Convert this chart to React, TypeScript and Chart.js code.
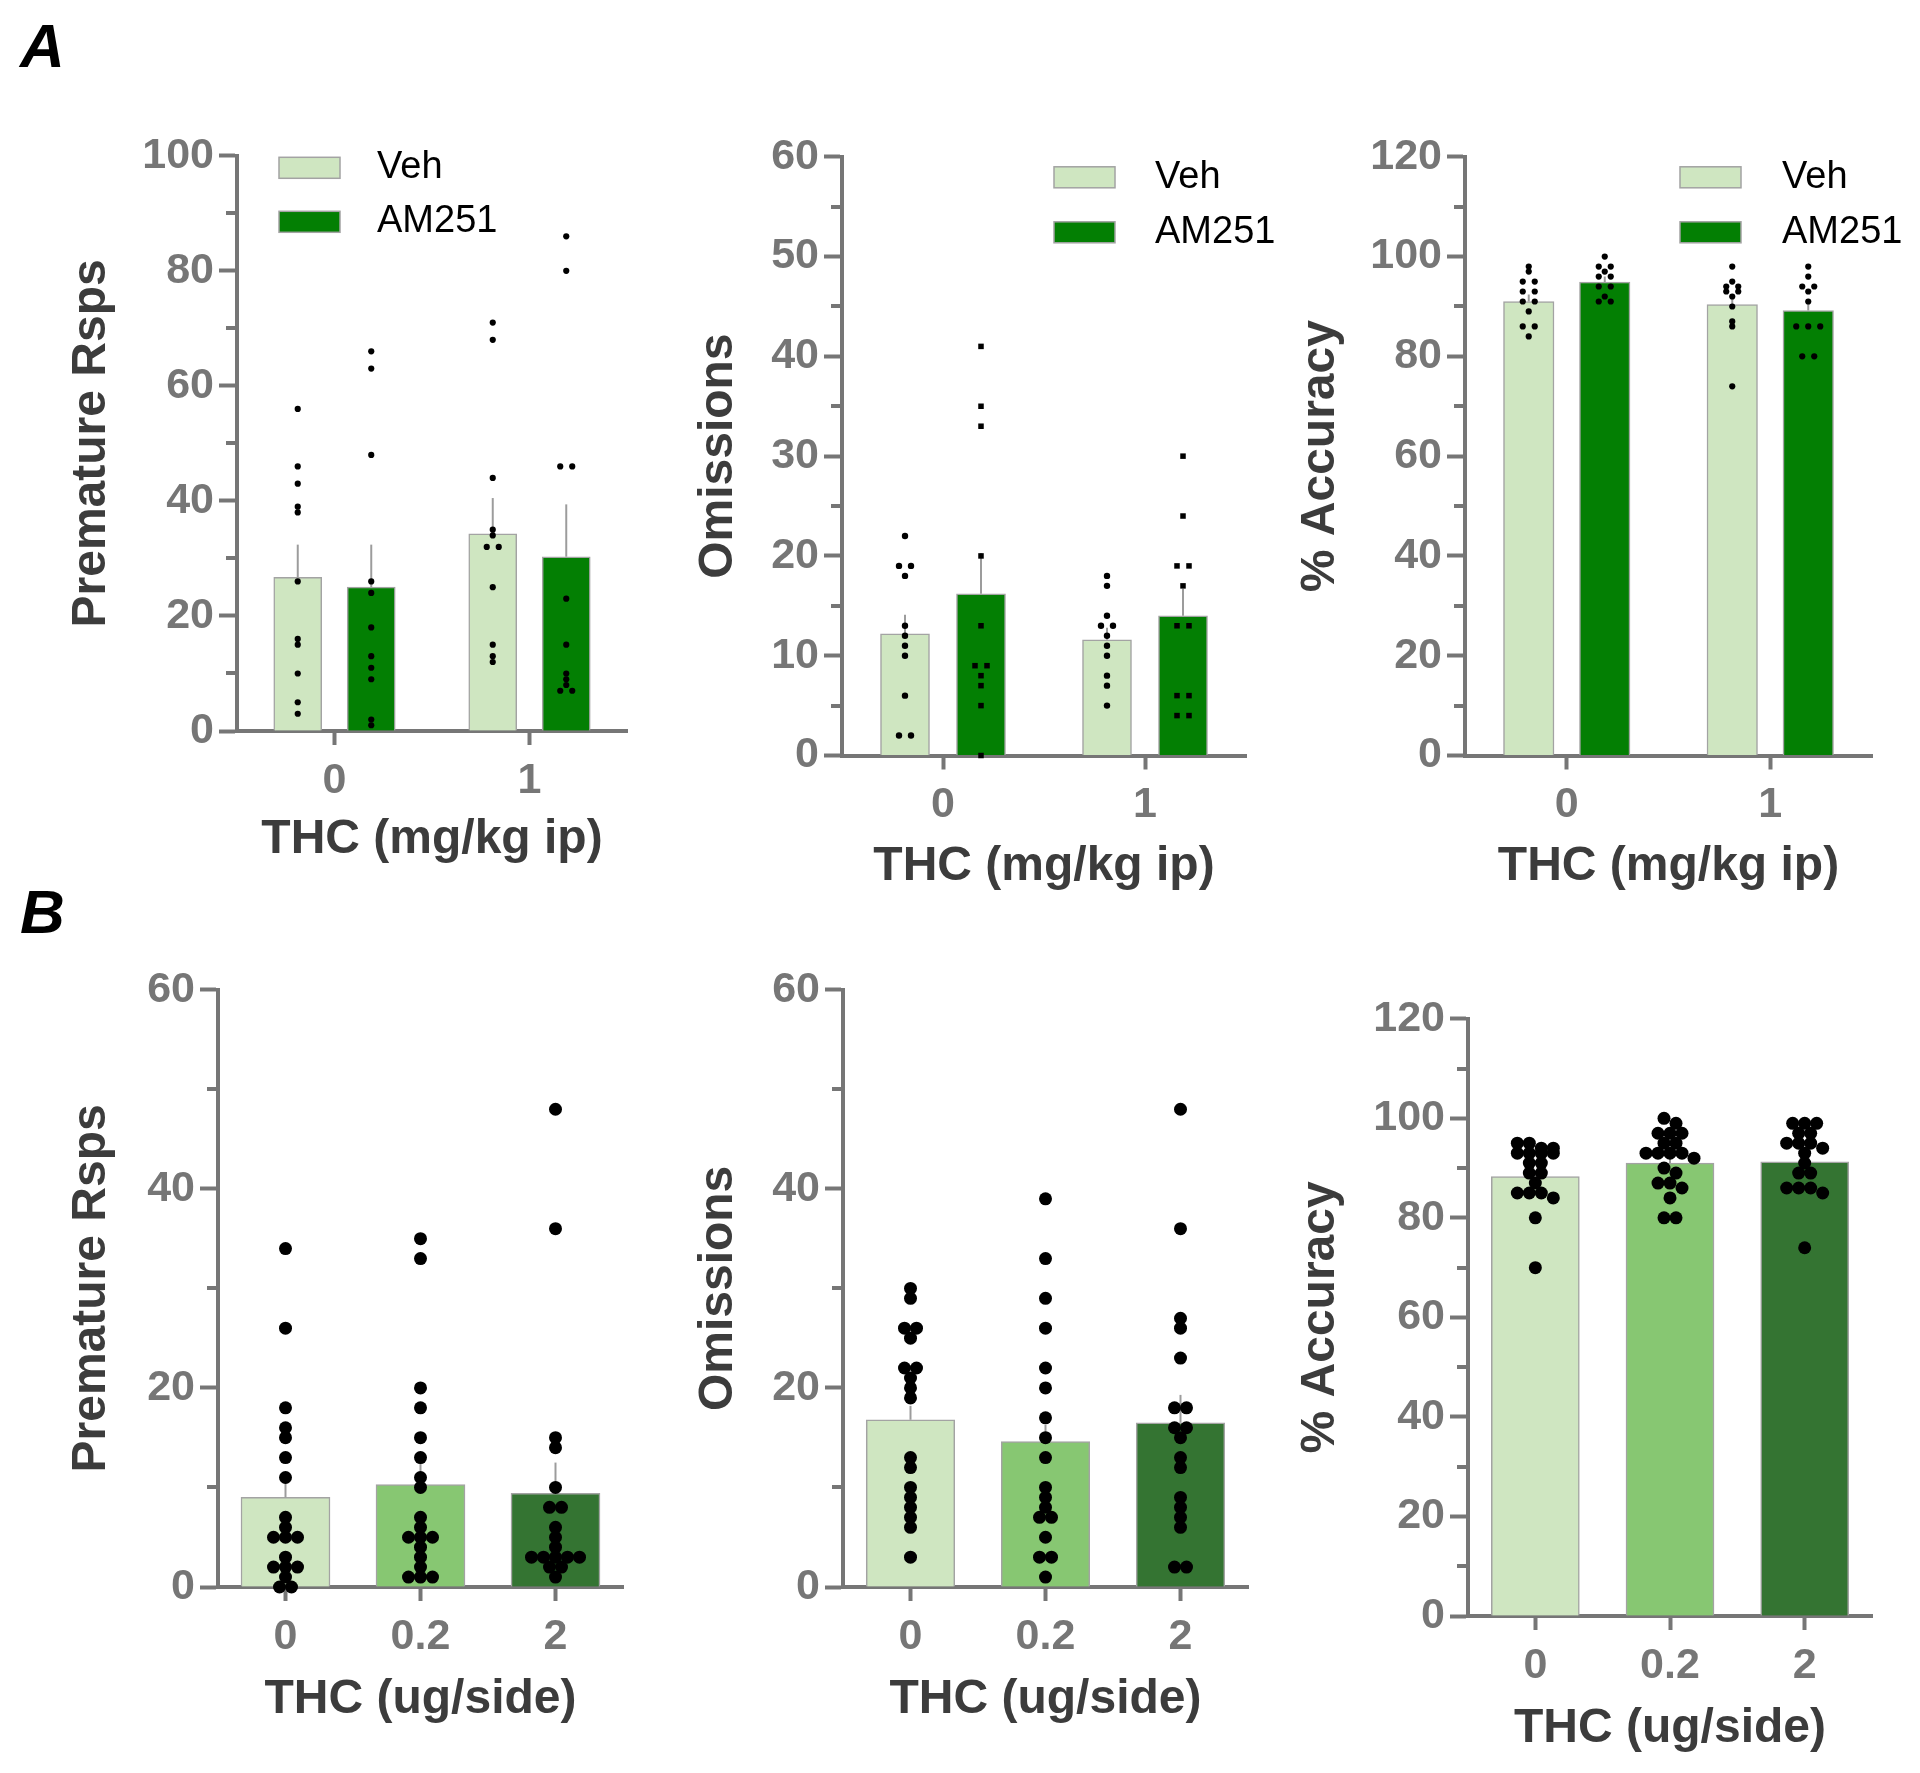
import React, { useEffect, useRef } from 'react';
import { Chart, registerables } from 'chart.js';

Chart.register(...registerables);

const FONT = "'Liberation Sans', Arial, Helvetica, sans-serif";
const AXIS_GRAY = '#767676';
const TICK_TEXT = '#767676';
const TITLE_TEXT = '#3c3c3c';
const BAR_BORDER = '#a3a3a3';
const ERR_COLOR = '#9c9c9c';
const JITTER_PX = 12;

// ---------- categories / labels ----------
const A_DOSES = ['0', '1'];
const B_DOSES = ['0', '0.2', '2'];
const A_GROUPS = ['Veh', 'AM251'];
const A_X_TITLE = 'THC (mg/kg ip)';
const B_X_TITLE = 'THC (ug/side)';

// ---------- colours ----------
const VEH_COLOR = '#cfe6c1';
const AM_COLOR = '#037f03';
const B_COLORS = ['#cfe6c1', '#87c772', '#347432'];

// ---------- A: Premature responses ----------
const A_PREM_VEH_MEAN = [26.7, 34.3];
const A_PREM_VEH_SEM = [5.7, 6.2];
const A_PREM_AM_MEAN = [25.0, 30.3];
const A_PREM_AM_SEM = [7.4, 9.1];
const A_PREM_VEH_PTS = [
  [56, 46, 43, 39, 38, 26, 16, 15, 10, 5, 3],
  [71, 68, 44, 35, 34, 32, 32, 25, 15, 13, 12],
];
const A_PREM_AM_PTS = [
  [66, 63, 48, 26, 24, 18, 13, 11, 9, 2, 1],
  [86, 80, 46, 46, 23, 15, 10, 9, 8, 7, 7],
];

// ---------- A: Omissions ----------
const A_OMIS_VEH_MEAN = [12.2, 11.6];
const A_OMIS_VEH_SEM = [1.9, 1.2];
const A_OMIS_AM_MEAN = [16.2, 14.0];
const A_OMIS_AM_SEM = [4.1, 2.7];
const A_OMIS_VEH_PTS = [
  [22, 19, 19, 18, 13, 12, 11, 10, 6, 2, 2],
  [18, 17, 14, 13, 13, 12, 11, 10, 8, 7, 5],
];
const A_OMIS_AM_PTS = [
  [41, 35, 33, 20, 13, 9, 9, 8, 7, 5, 0],
  [30, 24, 19, 19, 17, 13, 13, 6, 6, 4, 4],
];

// ---------- A: % Accuracy ----------
const A_ACC_VEH_MEAN = [91.0, 90.4];
const A_ACC_VEH_SEM = [1.4, 1.8];
const A_ACC_AM_MEAN = [94.9, 89.2];
const A_ACC_AM_SEM = [1.1, 1.4];
const A_ACC_VEH_PTS = [
  [98, 97, 95, 95, 93, 93, 91, 91, 89, 86, 86, 84],
  [98, 95, 94, 94, 93, 93, 92, 90, 87, 86, 74],
];
const A_ACC_AM_PTS = [
  [100, 98, 98, 97, 96, 96, 94, 94, 92, 91, 91],
  [98, 96, 94, 94, 93, 91, 86, 86, 86, 80, 80],
];

// ---------- B: Premature responses ----------
const B_PREM_MEAN = [9.0, 10.3, 9.4];
const B_PREM_SEM = [2.2, 2.6, 3.1];
const B_PREM_PTS = [
  [34, 26, 18, 16, 15, 13, 11, 7, 6, 5, 5, 5, 3, 2, 2, 2, 1, 0, 0],
  [35, 33, 20, 18, 15, 13, 11, 10, 7, 6, 5, 5, 5, 4, 3, 2, 1, 1, 1],
  [48, 36, 15, 14, 10, 8, 8, 6, 5, 4, 3, 3, 3, 3, 3, 2, 2, 1],
];

// ---------- B: Omissions ----------
const B_OMIS_MEAN = [16.8, 14.6, 16.5];
const B_OMIS_SEM = [1.4, 1.7, 2.8];
const B_OMIS_PTS = [
  [30, 29, 26, 26, 25, 22, 22, 21, 20, 19, 13, 12, 10, 9, 8, 7, 6, 3],
  [39, 33, 29, 26, 22, 20, 17, 15, 13, 10, 9, 8, 7, 7, 5, 3, 3, 1],
  [48, 36, 27, 26, 23, 18, 18, 16, 16, 15, 13, 12, 9, 8, 7, 6, 2, 2],
];

// ---------- B: % Accuracy ----------
const B_ACC_MEAN = [88.3, 91.0, 91.25];
const B_ACC_SEM = [1.1, 1.1, 1.0];
const B_ACC_PTS = [
  [95, 95, 94, 94, 93, 93, 93, 93, 91, 91, 89, 89, 87, 85, 85, 85, 84, 80, 70],
  [100, 99, 97, 97, 97, 95, 95, 93, 93, 93, 93, 92, 90, 89, 87, 87, 86, 84, 80, 80],
  [99, 99, 99, 97, 97, 95, 95, 95, 94, 93, 91, 89, 89, 86, 86, 86, 85, 74],
];

type Series = {
  label: string;
  means: number[];
  sems: number[];
  color: string | string[];
  points: number[][];
  pointStyle: 'circle' | 'rect';
  radius: number;
};

type PanelCfg = {
  id: string;
  left: number;
  top: number;
  width: number;
  height: number;
  yAxisWidth: number;
  xAxisHeight: number;
  padTop: number;
  padRight: number;
  yMax: number;
  yStep: number;
  yTitle: string;
  xTitle: string;
  categories: string[];
  barPx: number;
  groupSpacingPx: number;
  rowMergePx: number;
  series: Series[];
  legend?: { dx: number; dy: number; gap: number; textDx: number };
};

// Simple beeswarm: values closer than `thr` (value units) share a row,
// and the members of a row are spread symmetrically around the centre.
function rowOffsets(vals: number[], thr: number): number[] {
  const idx = vals.map((_, i) => i).sort((a, b) => vals[b] - vals[a]);
  const offs = new Array(vals.length).fill(0);
  let row: number[] = [];
  let rowStart = Infinity;
  const flush = () => {
    const k = row.length;
    row.forEach((id, i) => {
      offs[id] = i - (k - 1) / 2;
    });
    row = [];
  };
  idx.forEach((id) => {
    const v = vals[id];
    if (row.length && !(rowStart - v < thr || rowStart === v)) flush();
    if (!row.length) rowStart = v;
    row.push(id);
  });
  flush();
  return offs;
}

const PANELS: PanelCfg[] = [
  {
    id: 'A1', left: 63, top: 125, width: 577, height: 744, yAxisWidth: 174, xAxisHeight: 138,
    padTop: 30.5, padRight: 13, yMax: 100, yStep: 20, yTitle: 'Premature Rsps',
    xTitle: A_X_TITLE, categories: A_DOSES, barPx: 48, groupSpacingPx: 73.5, rowMergePx: 3,
    series: [
      { label: A_GROUPS[0], means: A_PREM_VEH_MEAN, sems: A_PREM_VEH_SEM, color: VEH_COLOR, points: A_PREM_VEH_PTS, pointStyle: 'circle', radius: 3.1 },
      { label: A_GROUPS[1], means: A_PREM_AM_MEAN, sems: A_PREM_AM_SEM, color: AM_COLOR, points: A_PREM_AM_PTS, pointStyle: 'circle', radius: 3.1 },
    ],
    legend: { dx: 42, dy: 1.5, gap: 54, textDx: 98 },
  },
  {
    id: 'A2', left: 690, top: 126, width: 600, height: 770, yAxisWidth: 152, xAxisHeight: 140.5,
    padTop: 30.7, padRight: 44, yMax: 60, yStep: 10, yTitle: 'Omissions',
    xTitle: A_X_TITLE, categories: A_DOSES, barPx: 49, groupSpacingPx: 76, rowMergePx: 3,
    series: [
      { label: A_GROUPS[0], means: A_OMIS_VEH_MEAN, sems: A_OMIS_VEH_SEM, color: VEH_COLOR, points: A_OMIS_VEH_PTS, pointStyle: 'circle', radius: 3.2 },
      { label: A_GROUPS[1], means: A_OMIS_AM_MEAN, sems: A_OMIS_AM_SEM, color: AM_COLOR, points: A_OMIS_AM_PTS, pointStyle: 'rect', radius: 3.9 },
    ],
    legend: { dx: 212, dy: 10, gap: 55, textDx: 101 },
  },
  {
    id: 'A3', left: 1292, top: 126, width: 626, height: 770, yAxisWidth: 173, xAxisHeight: 140.5,
    padTop: 30.7, padRight: 46, yMax: 120, yStep: 20, yTitle: '% Accuracy',
    xTitle: A_X_TITLE, categories: A_DOSES, barPx: 50.5, groupSpacingPx: 76, rowMergePx: 3,
    series: [
      { label: A_GROUPS[0], means: A_ACC_VEH_MEAN, sems: A_ACC_VEH_SEM, color: VEH_COLOR, points: A_ACC_VEH_PTS, pointStyle: 'circle', radius: 3.1 },
      { label: A_GROUPS[1], means: A_ACC_AM_MEAN, sems: A_ACC_AM_SEM, color: AM_COLOR, points: A_ACC_AM_PTS, pointStyle: 'circle', radius: 3.1 },
    ],
    legend: { dx: 215, dy: 10, gap: 55, textDx: 102 },
  },
  {
    id: 'B1', left: 63, top: 959, width: 577, height: 770, yAxisWidth: 155, xAxisHeight: 142,
    padTop: 30.4, padRight: 17, yMax: 60, yStep: 20, yTitle: 'Premature Rsps',
    xTitle: B_X_TITLE, categories: B_DOSES, barPx: 89, groupSpacingPx: 0, rowMergePx: 8,
    series: [
      { label: 'THC', means: B_PREM_MEAN, sems: B_PREM_SEM, color: B_COLORS, points: B_PREM_PTS, pointStyle: 'circle', radius: 6.5 },
    ],
  },
  {
    id: 'B2', left: 690, top: 959, width: 580, height: 770, yAxisWidth: 153, xAxisHeight: 142,
    padTop: 30.4, padRight: 22, yMax: 60, yStep: 20, yTitle: 'Omissions',
    xTitle: B_X_TITLE, categories: B_DOSES, barPx: 88.5, groupSpacingPx: 0, rowMergePx: 8,
    series: [
      { label: 'THC', means: B_OMIS_MEAN, sems: B_OMIS_SEM, color: B_COLORS, points: B_OMIS_PTS, pointStyle: 'circle', radius: 6.5 },
    ],
  },
  {
    id: 'B3', left: 1292, top: 988, width: 608, height: 770, yAxisWidth: 176, xAxisHeight: 142,
    padTop: 30.8, padRight: 28, yMax: 120, yStep: 20, yTitle: '% Accuracy',
    xTitle: B_X_TITLE, categories: B_DOSES, barPx: 88, groupSpacingPx: 0, rowMergePx: 8,
    series: [
      { label: 'THC', means: B_ACC_MEAN, sems: B_ACC_SEM, color: B_COLORS, points: B_ACC_PTS, pointStyle: 'circle', radius: 6.5 },
    ],
  },
];

function Panel({ cfg }: { cfg: PanelCfg }) {
  const ref = useRef<HTMLCanvasElement | null>(null);

  useEffect(() => {
    const canvas = ref.current;
    if (!canvas) return;
    const n = cfg.categories.length;
    const plotW = cfg.width - cfg.yAxisWidth - cfg.padRight;
    const plotH = cfg.height - cfg.padTop - cfg.xAxisHeight;
    const catW = plotW / n;
    const jitterUnit = JITTER_PX / catW;
    const rowThr = cfg.rowMergePx / (plotH / cfg.yMax);
    const nS = cfg.series.length;
    const barOffsets = cfg.series.map((_, si) => ((si - (nS - 1) / 2) * cfg.groupSpacingPx) / catW);

    const datasets: any[] = [];
    cfg.series.forEach((s, si) => {
      datasets.push({
        type: 'bar',
        label: s.label,
        data: s.means.map((m, ci) => ({ x: ci + barOffsets[si], y: m })),
        sems: s.sems,
        backgroundColor: s.color,
        borderColor: BAR_BORDER,
        borderWidth: 1.5,
        grouped: false,
        barThickness: cfg.barPx,
        xAxisID: 'x',
        yAxisID: 'y',
        order: 3,
      });
    });
    cfg.series.forEach((s, si) => {
      const pts: { x: number; y: number }[] = [];
      s.points.forEach((vals, ci) => {
        const offs = rowOffsets(vals, rowThr);
        vals.forEach((v, k) => pts.push({ x: ci + barOffsets[si] + offs[k] * jitterUnit, y: v }));
      });
      datasets.push({
        type: 'scatter',
        label: s.label + ' individual',
        data: pts,
        xAxisID: 'x',
        yAxisID: 'y',
        pointStyle: s.pointStyle,
        pointRadius: s.radius,
        pointHoverRadius: s.radius,
        backgroundColor: '#000000',
        borderColor: '#000000',
        borderWidth: 0,
        showLine: false,
        clip: false,
        grouped: false,
        order: 1,
      });
    });

    const minorTicks = {
      id: 'minorTicks',
      afterDraw(chart: any) {
        const y = chart.scales.y;
        const ctx = chart.ctx;
        ctx.save();
        ctx.strokeStyle = AXIS_GRAY;
        ctx.lineWidth = 4;
        for (let v = cfg.yStep / 2; v < cfg.yMax; v += cfg.yStep) {
          const py = Math.round(y.getPixelForValue(v));
          ctx.beginPath();
          ctx.moveTo(y.right - 11, py);
          ctx.lineTo(y.right, py);
          ctx.stroke();
        }
        ctx.restore();
      },
    };

    const errorBars = {
      id: 'errorBars',
      afterDatasetDraw(chart: any, args: any) {
        const ds = chart.data.datasets[args.index];
        if (!ds.sems) return;
        const y = chart.scales.y;
        const ctx = chart.ctx;
        ctx.save();
        ctx.strokeStyle = ERR_COLOR;
        ctx.lineWidth = 2;
        args.meta.data.forEach((el: any, j: number) => {
          const top = y.getPixelForValue(ds.data[j].y + ds.sems[j]);
          ctx.beginPath();
          ctx.moveTo(el.x, el.y);
          ctx.lineTo(el.x, top);
          ctx.stroke();
        });
        ctx.restore();
      },
    };

    const legendPlugin = {
      id: 'insideLegend',
      afterDraw(chart: any) {
        const lg = cfg.legend;
        if (!lg) return;
        const ca = chart.chartArea;
        const ctx = chart.ctx;
        ctx.save();
        cfg.series.forEach((s, i) => {
          const bx = ca.left + lg.dx;
          const by = ca.top + lg.dy + i * lg.gap;
          ctx.fillStyle = typeof s.color === 'string' ? s.color : s.color[0];
          ctx.fillRect(bx, by, 61, 21);
          ctx.strokeStyle = BAR_BORDER;
          ctx.lineWidth = 1.5;
          ctx.strokeRect(bx, by, 61, 21);
          ctx.fillStyle = '#000000';
          ctx.font = `38px ${FONT}`;
          ctx.textBaseline = 'middle';
          ctx.textAlign = 'left';
          ctx.fillText(s.label, bx + lg.textDx, by + 10.5);
        });
        ctx.restore();
      },
    };

    const chart = new Chart(canvas, {
      type: 'bar',
      data: { datasets },
      options: {
        responsive: false,
        animation: false,
        devicePixelRatio: 1,
        events: [],
        layout: { padding: { top: cfg.padTop, right: cfg.padRight, left: 0, bottom: 0 } },
        plugins: { legend: { display: false }, tooltip: { enabled: false } },
        scales: {
          x: {
            type: 'linear',
            min: -0.5,
            max: n - 0.5,
            offset: false,
            afterBuildTicks: (scale: any) => {
              scale.ticks = cfg.categories.map((_, i) => ({ value: i }));
            },
            afterFit: (scale: any) => {
              scale.height = cfg.xAxisHeight;
            },
            ticks: {
              color: TICK_TEXT,
              font: { family: FONT, size: 43, weight: 'bold' },
              padding: 10,
              autoSkip: false,
              maxRotation: 0,
              callback: (v: any) => {
                const i = Math.round(Number(v));
                return cfg.categories[i] !== undefined ? cfg.categories[i] : '';
              },
            },
            grid: {
              offset: false,
              drawOnChartArea: false,
              drawTicks: true,
              tickLength: 14,
              tickWidth: 4,
              tickColor: AXIS_GRAY,
            },
            border: { display: true, color: AXIS_GRAY, width: 4 },
            title: {
              display: true,
              text: cfg.xTitle,
              color: TITLE_TEXT,
              font: { family: FONT, size: 48, weight: 'bold', lineHeight: 1.2 },
              padding: 0,
            },
          },
          y: {
            type: 'linear',
            min: 0,
            max: cfg.yMax,
            afterFit: (scale: any) => {
              scale.width = cfg.yAxisWidth;
            },
            ticks: {
              stepSize: cfg.yStep,
              color: TICK_TEXT,
              font: { family: FONT, size: 43, weight: 'bold' },
              padding: 5,
            },
            grid: {
              drawOnChartArea: false,
              drawTicks: true,
              tickLength: 18,
              tickWidth: 4,
              tickColor: AXIS_GRAY,
            },
            border: { display: true, color: AXIS_GRAY, width: 4 },
            title: {
              display: true,
              text: cfg.yTitle,
              color: TITLE_TEXT,
              font: { family: FONT, size: 48, weight: 'bold', lineHeight: 1.2 },
              padding: 0,
            },
          },
        },
      } as any,
      plugins: [minorTicks, errorBars, legendPlugin],
    });

    return () => {
      chart.destroy();
    };
  }, [cfg]);

  return (
    <canvas
      ref={ref}
      width={cfg.width}
      height={cfg.height}
      style={{ position: 'absolute', left: cfg.left, top: cfg.top, width: cfg.width, height: cfg.height }}
    />
  );
}

const letterStyle: React.CSSProperties = {
  position: 'absolute',
  fontFamily: FONT,
  fontWeight: 'bold',
  fontStyle: 'italic',
  fontSize: 62,
  lineHeight: '62px',
  color: '#000000',
  margin: 0,
};

export default function App() {
  return (
    <div
      style={{
        position: 'absolute',
        left: 0,
        top: 0,
        width: 1920,
        height: 1773,
        background: '#ffffff',
        overflow: 'hidden',
      }}
    >
      <div style={{ ...letterStyle, left: 20, top: 15 }}>A</div>
      <div style={{ ...letterStyle, left: 20, top: 881 }}>B</div>
      {PANELS.map((p) => (
        <Panel key={p.id} cfg={p} />
      ))}
    </div>
  );
}
